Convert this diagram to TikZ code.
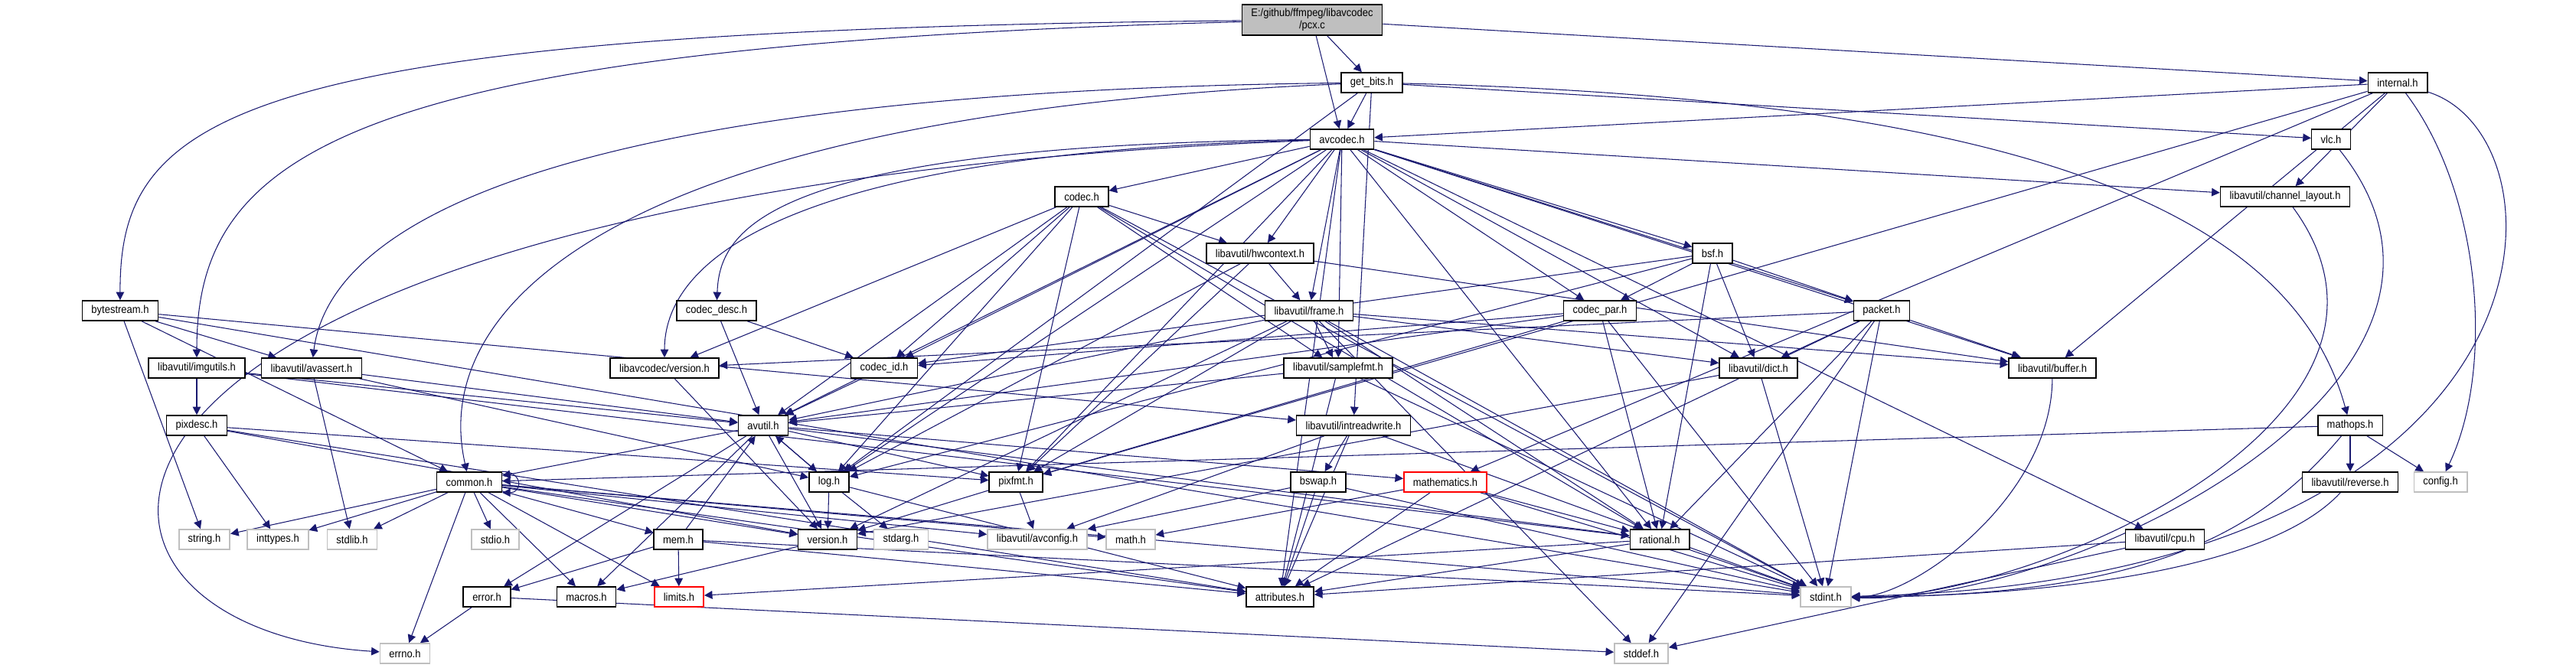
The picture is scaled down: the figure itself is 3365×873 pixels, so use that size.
\documentclass[tikz,border=0pt]{standalone}
\usepackage{fontspec}
\setmainfont{Liberation Sans}[FakeStretch=0.9]
\usetikzlibrary{arrows.meta,backgrounds}
\definecolor{edgeblue}{HTML}{191970}
\definecolor{sysgray}{HTML}{BFBFBF}

\begin{document}
\begin{tikzpicture}[x=0.01cm,y=-0.01cm,
    file/.style={draw=black,line width=0.45pt,fill=white,font=\fontsize{4.1}{4.6}\selectfont,inner xsep=0.12cm,inner ysep=0pt,minimum height=0.26cm},
    sys/.style={file,draw=sysgray},
    cut/.style={file,draw=red},
    dep/.style={draw=edgeblue,line width=0.3pt,-{Triangle[length=3pt,width=3pt]}}]
  \useasboundingbox (0,0) rectangle (3365,873);
  % files, row by row
  \node[file,fill=sysgray,align=center,minimum width=1.81cm,minimum height=0.4cm] (pcx) at (1714,26) {E:/github/ffmpeg/libavcodec\\/pcx.c};
  \node[file] (getbits) at (1792,108) {get\_bits.h};
  \node[file] (internal) at (3132,108) {internal.h};
  \node[file] (avcodec) at (1753,182) {avcodec.h};
  \node[file] (vlc) at (3045,182) {vlc.h};
  \node[file] (codec) at (1413,257) {codec.h};
  \node[file] (chlayout) at (2985,257) {libavutil/channel\_layout.h};
  \node[file] (hwctx) at (1646,331) {libavutil/hwcontext.h};
  \node[file] (bsf) at (2237,331) {bsf.h};
  \node[file] (bytestream) at (157,406) {bytestream.h};
  \node[file] (codecdesc) at (936,406) {codec\_desc.h};
  \node[file] (frame) at (1710,406) {libavutil/frame.h};
  \node[file] (codecpar) at (2090,406) {codec\_par.h};
  \node[file] (packet) at (2458,406) {packet.h};
  \node[file] (imgutils) at (257,481) {libavutil/imgutils.h};
  \node[file] (avassert) at (407,481) {libavutil/avassert.h};
  \node[file] (lcversion) at (868,481) {libavcodec/version.h};
  \node[file] (codecid) at (1155,481) {codec\_id.h};
  \node[file] (samplefmt) at (1748,481) {libavutil/samplefmt.h};
  \node[file] (dict) at (2297,481) {libavutil/dict.h};
  \node[file] (buffer) at (2681,481) {libavutil/buffer.h};
  \node[file] (pixdesc) at (257,556) {pixdesc.h};
  \node[file] (avutil) at (997,556) {avutil.h};
  \node[file] (intrw) at (1768,556) {libavutil/intreadwrite.h};
  \node[file] (mathops) at (3070,556) {mathops.h};
  \node[file] (common) at (613,630) {common.h};
  \node[file] (log) at (1083,630) {log.h};
  \node[file] (pixfmt) at (1327,630) {pixfmt.h};
  \node[file] (bswap) at (1722,630) {bswap.h};
  \node[cut] (mathematics) at (1888,630) {mathematics.h};
  \node[file] (reverse) at (3070,630) {libavutil/reverse.h};
  \node[sys] (config) at (3188,630) {config.h};
  \node[sys] (stringh) at (267,705) {string.h};
  \node[sys] (inttypes) at (363,705) {inttypes.h};
  \node[sys] (stdlibh) at (460,705) {stdlib.h};
  \node[sys] (stdioh) at (647,705) {stdio.h};
  \node[file] (mem) at (886,705) {mem.h};
  \node[file] (version) at (1081,705) {version.h};
  \node[sys] (stdarg) at (1177,705) {stdarg.h};
  \node[sys] (avconfig) at (1355,705) {libavutil/avconfig.h};
  \node[sys] (math) at (1477,705) {math.h};
  \node[file] (rational) at (2168,705) {rational.h};
  \node[file] (cpu) at (2828,705) {libavutil/cpu.h};
  \node[file] (error) at (636,780) {error.h};
  \node[file] (macros) at (766,780) {macros.h};
  \node[cut] (limits) at (887,780) {limits.h};
  \node[file] (attributes) at (1672,780) {attributes.h};
  \node[sys] (stdint) at (2385,780) {stdint.h};
  \node[sys] (errno) at (529,854) {errno.h};
  \node[sys] (stddef) at (2144,854) {stddef.h};
  % includes
  \begin{scope}[on background layer]
    \draw[dep] (pcx) .. controls (300,40) and (156,150) .. (bytestream);
    \draw[dep] (pcx) .. controls (450,60) and (257,200) .. (imgutils);
    \draw[dep] (getbits) .. controls (700,120) and (430,300) .. (avassert);
    \draw[dep] (getbits) .. controls (800,150) and (560,400) .. (common);
    \draw[dep] (getbits) .. controls (2700,130) and (3000,300) .. (mathops);
    \draw[dep] (avcodec) .. controls (0,250) and (0,820) .. (errno);
    \draw[dep] (avcodec) .. controls (1000,190) and (940,300) .. (codecdesc);
    \draw[dep] (avcodec) .. controls (1000,200) and (868,350) .. (lcversion);
    \draw[dep] (internal) .. controls (3365,180) and (3365,760) .. (stdint);
    \draw[dep] (internal) .. controls (3240,250) and (3260,480) .. (config);
    \draw[dep] (vlc) .. controls (3300,500) and (2700,790) .. (stdint);
    \draw[dep] (chlayout) .. controls (3200,550) and (2650,785) .. (stdint);
    \draw[dep] (mathops) .. controls (2950,700) and (2800,780) .. (stdint);
    \draw[dep] (reverse) .. controls (2950,760) and (2600,780) .. (stdint);
    \draw[dep] (buffer) .. controls (2680,650) and (2500,780) .. (stdint);
    \draw[dep] (common.north east) to[out=0,in=0,looseness=2.5] (common.south east);
    \foreach \a/\b in {pcx/getbits, pcx/avcodec, pcx/internal,
        getbits/avcodec, getbits/log, getbits/intrw, getbits/vlc,
        internal/avcodec, internal/chlayout, internal/buffer, internal/mathematics, internal/pixfmt,
        avcodec/samplefmt, avcodec/attributes, avcodec/avutil, avcodec/buffer, avcodec/cpu,
        avcodec/chlayout, avcodec/dict, avcodec/frame, avcodec/hwctx, avcodec/log, avcodec/pixfmt,
        avcodec/rational, avcodec/bsf, avcodec/codec, avcodec/codecpar, avcodec/codecid, avcodec/packet,
        codec/stdint, codec/avutil, codec/hwctx, codec/log, codec/pixfmt, codec/rational,
        codec/samplefmt, codec/codecid, codec/lcversion,
        hwctx/buffer, hwctx/frame, hwctx/log, hwctx/pixfmt,
        bsf/dict, bsf/log, bsf/rational, bsf/codecid, bsf/codecpar, bsf/packet,
        bytestream/stdint, bytestream/stringh, bytestream/avassert, bytestream/common, bytestream/intrw,
        codecdesc/avutil, codecdesc/codecid,
        frame/stddef, frame/stdint, frame/avutil, frame/buffer, frame/dict, frame/rational,
        frame/samplefmt, frame/pixfmt, frame/version,
        codecpar/stdint, codecpar/avutil, codecpar/rational, codecpar/pixfmt, codecpar/codecid,
        packet/stddef, packet/stdint, packet/attributes, packet/buffer, packet/dict, packet/rational, packet/lcversion,
        imgutils/avutil, imgutils/pixdesc, imgutils/rational,
        avassert/stdlibh, avassert/avutil, avassert/log,
        lcversion/version, codecid/avutil,
        samplefmt/stdint, samplefmt/avutil, samplefmt/attributes,
        dict/stdint, dict/version,
        pixdesc/inttypes, pixdesc/attributes, pixdesc/pixfmt, pixdesc/version,
        avutil/common, avutil/error, avutil/rational, avutil/version, avutil/macros,
        avutil/mathematics, avutil/log, avutil/pixfmt,
        intrw/stdint, intrw/avconfig, intrw/attributes, intrw/bswap,
        mathops/common, mathops/reverse, mathops/config,
        common/errno, common/inttypes, common/limits, common/math, common/stdint, common/stdioh,
        common/stdlibh, common/stringh, common/attributes, common/macros, common/version,
        common/avconfig, common/mem,
        log/stdarg, log/avutil, log/attributes, log/version,
        pixfmt/version, pixfmt/avconfig,
        bswap/stdint, bswap/avconfig, bswap/attributes,
        mathematics/stdint, mathematics/math, mathematics/attributes, mathematics/rational,
        mem/limits, mem/stdint, mem/attributes, mem/error, mem/avutil,
        version/macros,
        rational/stdint, rational/limits, rational/attributes,
        cpu/stddef, cpu/attributes,
        error/errno, error/stddef}
      \draw[dep] (\a) -- (\b);
  \end{scope}
\end{tikzpicture}
\end{document}
